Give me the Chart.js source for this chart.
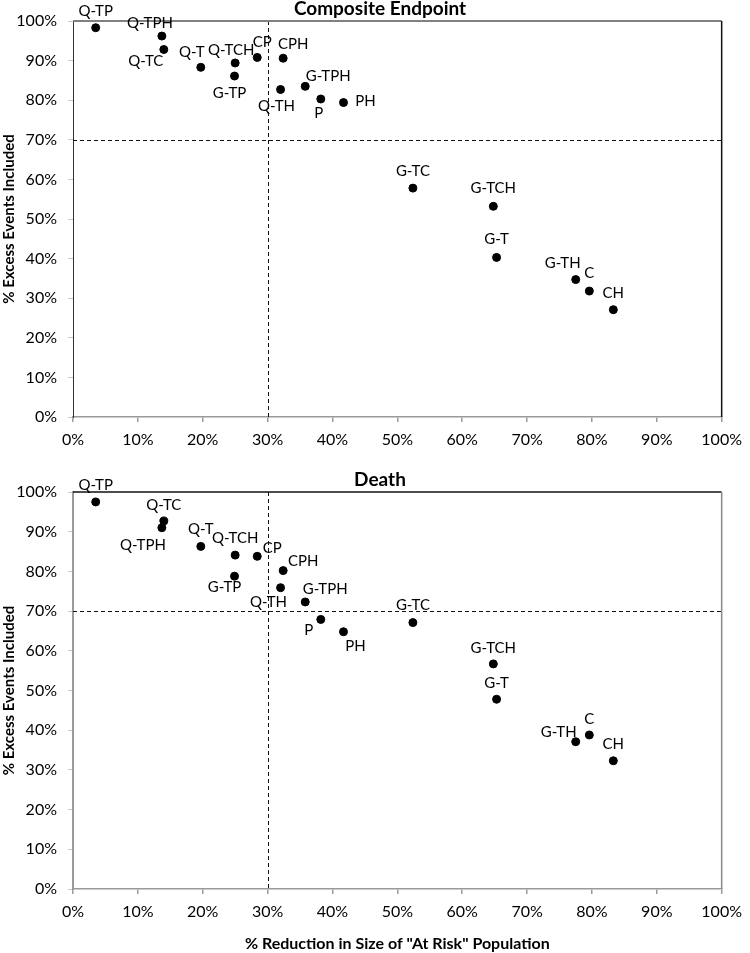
<!DOCTYPE html>
<html>
<head>
<meta charset="utf-8">
<script src="https://cdn.jsdelivr.net/npm/chart.js@4"></script>
<style>
  body { margin: 0; background: #fff; }
  #wrap { position: relative; width: 750px; height: 953px; }
  canvas { position: absolute; left: 0; }
  #top { top: 0; }
  #bottom { top: 460px; }
</style>
</head>
<body>
<div id="wrap">
  <canvas id="top" width="750" height="460"></canvas>
  <canvas id="bottom" width="750" height="493"></canvas>
</div>
<script>
// Strategy labels and values (percent)
const strategies = ['Q-TP', 'Q-TPH', 'Q-TC', 'Q-T', 'Q-TCH', 'G-TP', 'CP', 'CPH', 'Q-TH',
  'G-TPH', 'P', 'PH', 'G-TC', 'G-TCH', 'G-T', 'G-TH', 'C', 'CH'];
const reduction = [3.5, 13.7, 14.0, 19.7, 25.0, 24.9, 28.4, 32.4, 32.0,
  35.8, 38.2, 41.7, 52.4, 64.8, 65.3, 77.5, 79.6, 83.3];
const compositeIncluded = [98.3, 96.2, 92.8, 88.3, 89.4, 86.1, 90.8, 90.6, 82.7,
  83.5, 80.3, 79.4, 57.8, 53.2, 40.3, 34.7, 31.8, 27.1];
const deathIncluded = [97.5, 91.0, 92.7, 86.3, 84.1, 78.8, 83.8, 80.2, 75.9,
  72.3, 67.9, 64.8, 67.1, 56.7, 47.8, 37.1, 38.8, 32.3];
const axisTicks = [0, 10, 20, 30, 40, 50, 60, 70, 80, 90, 100];
const cutoffX = 30;
const cutoffY = 70;

// label nudges (px) relative to each point, same order as strategies
const compositeLabelPos = [[0,-17],[-12,-13],[-18,12],[-9,-15],[-4,-13],[-5,17],[5,-15],[10,-14],[-4,17],
  [23,-10],[-2,14],[22,-1],[0,-17],[0,-18],[0,-18],[-13,-16],[0,-18],[0,-17]];
const deathLabelPos = [[0,-17],[-19,17],[0,-16],[0,-17],[0,-17],[-10,11],[15,-8],[20,-9],[-12,14],
  [20,-13],[-12,11],[12,14],[0,-17],[0,-16],[0,-16],[-17,-10],[0,-16],[0,-17]];

Chart.defaults.font.family = 'Lato, "Open Sans", sans-serif';
Chart.defaults.color = '#000';

function makeChart(id, title, values, labelPos, opts) {
  const points = reduction.map((x, i) => ({ x: x, y: values[i] }));

  const extras = {
    id: 'extras',
    beforeDatasetsDraw(chart) {
      const { ctx, chartArea: a, scales: { x, y } } = chart;
      ctx.save();
      ctx.strokeStyle = '#111';
      ctx.lineWidth = 1;
      ctx.setLineDash([4, 3]);
      const px = Math.round(x.getPixelForValue(cutoffX)) + 0.5;
      const py = Math.round(y.getPixelForValue(cutoffY)) + 0.5;
      ctx.beginPath();
      ctx.moveTo(px, a.top); ctx.lineTo(px, a.bottom);
      ctx.moveTo(a.left, py); ctx.lineTo(a.right, py);
      ctx.stroke();
      ctx.setLineDash([]);
      // top and right frame
      ctx.lineWidth = opts.topWidth;
      ctx.strokeStyle = opts.topColor;
      ctx.beginPath();
      ctx.moveTo(a.left, a.top); ctx.lineTo(a.right, a.top);
      ctx.stroke();
      ctx.lineWidth = 1.5;
      ctx.strokeStyle = opts.rightColor;
      ctx.beginPath();
      ctx.moveTo(a.right, a.top); ctx.lineTo(a.right, a.bottom);
      ctx.stroke();
      ctx.restore();
    },
    afterDatasetsDraw(chart) {
      const { ctx } = chart;
      const meta = chart.getDatasetMeta(0);
      ctx.save();
      ctx.font = '15px Lato';
      ctx.fillStyle = '#000';
      ctx.textAlign = 'center';
      ctx.textBaseline = 'middle';
      meta.data.forEach((el, i) => {
        ctx.fillText(strategies[i], el.x + labelPos[i][0], el.y + labelPos[i][1]);
      });
      ctx.font = 'bold 19px Lato';
      ctx.fillText(title, 380, opts.titleY);
      ctx.restore();
    }
  };

  return new Chart(document.getElementById(id), {
    type: 'scatter',
    data: {
      datasets: [{
        data: points,
        pointRadius: 4,
        pointHoverRadius: 4,
        backgroundColor: '#000',
        borderColor: '#000'
      }]
    },
    options: {
      responsive: false,
      animation: false,
      layout: { padding: { top: opts.top, right: 19, left: 0, bottom: 0 } },
      plugins: { legend: { display: false }, tooltip: { enabled: false } },
      scales: {
        x: {
          type: 'linear', min: 0, max: 100,
          afterBuildTicks: s => { s.ticks = axisTicks.map(v => ({ value: v })); },
          afterFit: s => { s.height = opts.xHeight; },
          ticks: { font: { size: 16 }, padding: 8, maxRotation: 0, callback: v => v + '%' },
          grid: { drawOnChartArea: false, tickLength: 5, color: '#9a9a9a', lineWidth: 1.5 },
          border: { color: '#9a9a9a', width: 1.5 },
          title: {
            display: opts.xTitle,
            text: '% Reduction in Size of "At Risk" Population',
            font: { size: 16, weight: 'bold' },
            padding: { top: 0, bottom: 0 }
          }
        },
        y: {
          type: 'linear', min: 0, max: 100,
          afterBuildTicks: s => { s.ticks = axisTicks.map(v => ({ value: v })); },
          afterFit: s => { s.width = 73; },
          ticks: { font: { size: 16 }, padding: 11, callback: v => v + '%' },
          grid: { drawOnChartArea: false, tickLength: 5, color: '#c8c8c8', lineWidth: 1 },
          border: { color: opts.leftColor, width: opts.leftWidth, dash: opts.leftDash },
          title: {
            display: true,
            text: '% Excess Events Included',
            font: { size: 15, weight: 'bold' },
            padding: { top: 0, bottom: 0 }
          }
        }
      }
    },
    plugins: [extras]
  });
}

makeChart('top', 'Composite Endpoint', compositeIncluded, compositeLabelPos, {
  top: 21, xHeight: 43, xTitle: false, titleY: 9,
  topColor: '#808080', topWidth: 2, rightColor: '#111',
  leftColor: '#333', leftWidth: 1, leftDash: [1, 1]
});

makeChart('bottom', 'Death', deathIncluded, deathLabelPos, {
  top: 32, xHeight: 64, xTitle: true, titleY: 20,
  topColor: '#111', topWidth: 1.5, rightColor: '#8a8a8a',
  leftColor: '#9a9a9a', leftWidth: 2, leftDash: []
});
</script>
</body>
</html>
